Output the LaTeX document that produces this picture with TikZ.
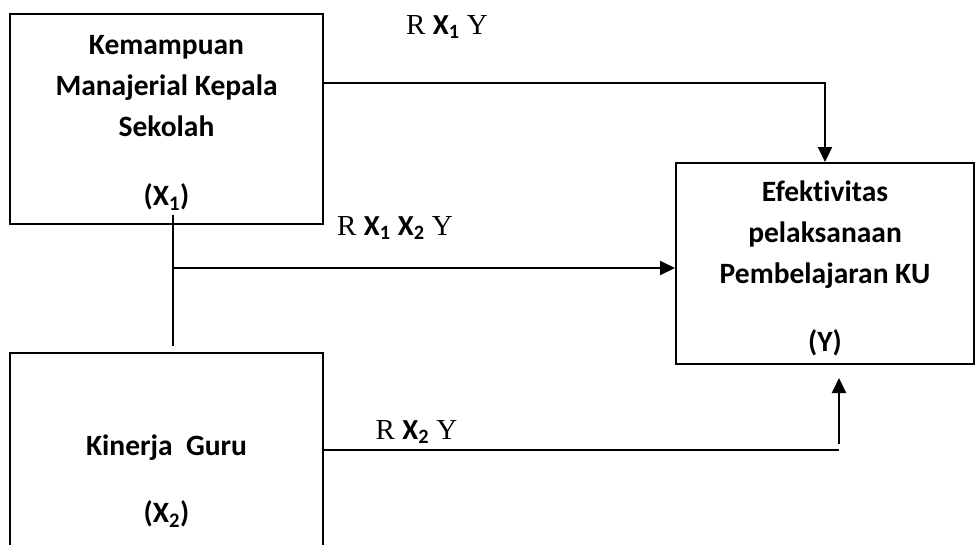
\documentclass[tikz,border=0pt]{standalone}
\usepackage{fontspec}
\setmainfont{Carlito}[Ligatures=NoCommon]
\newfontfamily\lblserif{Liberation Serif}
\usetikzlibrary{arrows.meta,calc}
\newcommand\varx[1]{{\rmfamily\bfseries X\textsubscript{#1}}}
\begin{document}
\begin{tikzpicture}[x=1pt,y=-1pt,
  varbox/.style={draw, line width=2pt, align=center, inner sep=0pt,
    font=\fontsize{29.5}{41}\selectfont\bfseries},
  link/.style={line width=2pt},
  arr/.style={link, -{Triangle[length=15pt,width=14pt]}},
  rlabel/.style={inner sep=0pt, font=\fontsize{29}{32}\selectfont\lblserif}]
\useasboundingbox (0,0) rectangle (976,544);
\clip (0,0) rectangle (976,544);

% variable boxes
\node[varbox, minimum width=313pt, minimum height=210pt] (x1) at (166.5,119)
  {\rule{0pt}{27pt}Kemampuan\\Manajerial Kepala\\Sekolah\\[28pt](X\textsubscript{1})};
\node[varbox, minimum width=298pt, minimum height=201pt] (y) at (825,263.5)
  {\rule{0pt}{30pt}Efektivitas\\pelaksanaan\\Pembelajaran KU\\[27pt](Y)};
\node[varbox, minimum width=313pt, minimum height=257pt] (x2) at (166.5,481.5)
  {Kinerja\ \ Guru\\[26pt](X\textsubscript{2})};

% X1 -> Y
\draw[arr] ([yshift=-70pt]x1.north east) -| (y.north);

% joint path X1, X2 -> Y
\coordinate (mid) at (173,268);
\draw[link] ([xshift=6.5pt,yshift=10pt]x1.south) -- ([xshift=6.5pt,yshift=6pt]x2.north);
\draw[arr] (mid) -- (mid -| y.west);

% X2 -> Y
\coordinate (b2) at ([yshift=32pt]x2.east);
\coordinate (turn) at (839,449.5);
\draw[link] (b2) -- (turn);
\draw[arr] ([yshift=6pt]turn) -- ($(turn |- y.south)+(0,13)$);

% path labels
\node[rlabel] (l1) at (447,27) {R \varx{1} Y};
\node[rlabel] (l12) at (395,228) {R \varx{1} \varx{2} Y};
\node[rlabel] (l2) at (416.5,432) {R \varx{2} Y};
\end{tikzpicture}
\end{document}
